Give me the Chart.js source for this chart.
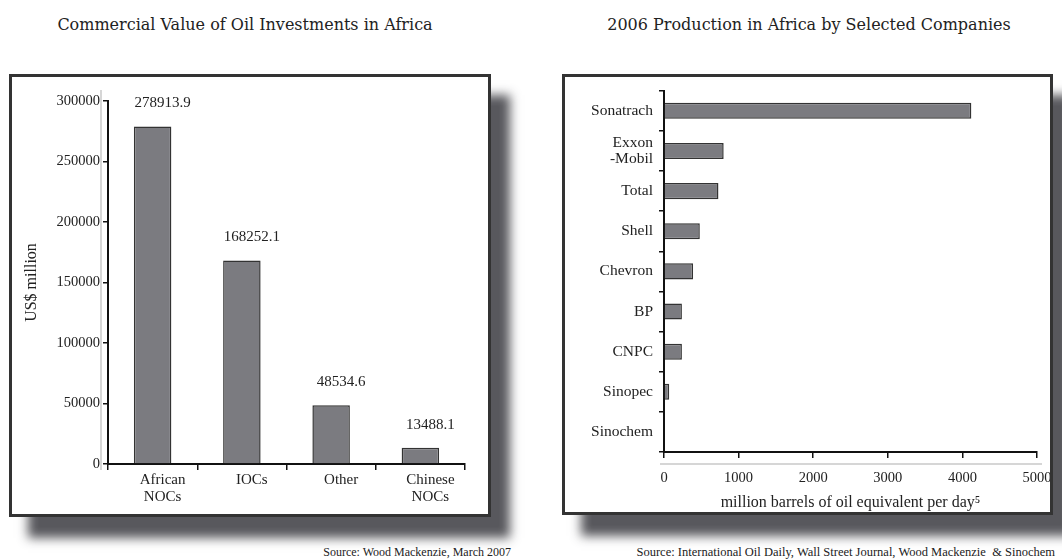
<!DOCTYPE html>
<html lang="en">
<head>
    <meta charset="UTF-8">
    <title>Oil in Africa</title>
    <script src="https://cdn.jsdelivr.net/npm/chart.js"></script>
    <style>
        body {
            margin: 0;
            width: 1062px;
            height: 559px;
            position: relative;
            background: #fff;
            font-family: "Liberation Serif", serif;
            color: #222;
            overflow: hidden;
        }
        .title {
            position: absolute;
            top: 15px;
            font-family: "DejaVu Serif", serif;
            font-size: 16px;
            text-align: center;
            white-space: nowrap;
            color: #222;
        }
        .panel {
            position: absolute;
            top: 74px;
            border: 3px solid #333;
            background: #fff;
            box-shadow: 19px 21px 10px rgba(70, 70, 75, 0.9);
        }
        .source {
            position: absolute;
            top: 545px;
            font-size: 12px;
            white-space: nowrap;
            color: #222;
        }
    </style>
</head>
<body>
    <div class="title" style="left:0; width:490px;">Commercial Value of Oil Investments in Africa</div>
    <div class="title" style="left:562px; width:494px;">2006 Production in Africa by Selected Companies</div>

    <div class="panel" style="left:9px; width:476px; height:437px;">
        <canvas id="valueChart" width="476" height="437"></canvas>
    </div>
    <div class="panel" style="left:562px; width:485px; height:435px;">
        <canvas id="prodChart" width="485" height="435"></canvas>
    </div>

    <div class="source" style="right:551px;">Source: Wood Mackenzie, March 2007</div>
    <div class="source" style="right:7px; font-size:12.5px;">Source: International Oil Daily, Wall Street Journal, Wood Mackenzie &nbsp;&amp; Sinochem</div>

    <script>
        // left chart: commercial value, US$ million
        const investors = [["African", "NOCs"], "IOCs", "Other", ["Chinese", "NOCs"]];
        const investValues = [278913.9, 168252.1, 48534.6, 13488.1];
        const valueTicks = [0, 50000, 100000, 150000, 200000, 250000, 300000];

        // right chart: 2006 production
        const companies = ["Sonatrach", ["Exxon", "-Mobil"], "Total", "Shell", "Chevron", "BP", "CNPC", "Sinopec", "Sinochem"];
        const production = [4120, 800, 730, 480, 390, 240, 240, 70, 0];
        const prodTicks = [0, 1000, 2000, 3000, 4000, 5000];

        const serif = "'Liberation Serif', serif";
        const barFill = "#7b7b80";
        const barEdge = "#333";
        const axisColor = "#111";

        // value labels over the bars (sit a little right of centre, like the labels below)
        const valueLabels = {
            id: "valueLabels",
            afterDatasetsDraw(chart) {
                const c = chart.ctx;
                c.save();
                c.font = "15px " + serif;
                c.fillStyle = "#222";
                c.textAlign = "center";
                c.textBaseline = "middle";
                chart.getDatasetMeta(0).data.forEach((bar, i) => {
                    c.fillText(investValues[i].toFixed(1), bar.x + 10, bar.y - 23);
                });
                c.restore();
            }
        };

        // faint scan lines next to the axes
        function faintLine(vertical) {
            return {
                id: "faint",
                afterDraw(chart) {
                    const a = chart.chartArea;
                    const c = chart.ctx;
                    c.save();
                    c.strokeStyle = "#c8c8c8";
                    c.lineWidth = 1.5;
                    c.beginPath();
                    if (vertical) {
                        c.moveTo(a.left - 7, a.top - 11);
                        c.lineTo(a.left - 7, a.bottom + 6);
                    } else {
                        c.moveTo(a.left - 4, a.bottom + 12);
                        c.lineTo(a.right + 5, a.bottom + 12);
                    }
                    c.stroke();
                    c.restore();
                }
            };
        }

        const plain = v => String(v);

        new Chart(document.getElementById("valueChart"), {
            type: "bar",
            data: {
                labels: investors,
                datasets: [{
                    data: investValues,
                    backgroundColor: barFill,
                    borderColor: barEdge,
                    borderWidth: 1.5,
                    categoryPercentage: 1,
                    barPercentage: 0.42
                }]
            },
            options: {
                responsive: false,
                animation: false,
                layout: { padding: { top: 24, right: 23, left: 0, bottom: 0 } },
                plugins: { legend: { display: false }, tooltip: { enabled: false } },
                scales: {
                    x: {
                        grid: { offset: true, drawOnChartArea: false, tickLength: 6, color: axisColor, lineWidth: 1.5 },
                        border: { color: axisColor, width: 2 },
                        ticks: { font: { family: serif, size: 15, lineHeight: 1.1 }, color: "#222", padding: 2, labelOffset: 10 },
                        afterFit(s) { s.height = 50; s.paddingRight = 0; }
                    },
                    y: {
                        min: 0,
                        max: 300000,
                        afterBuildTicks(s) { s.ticks = valueTicks.map(v => ({ value: v })); },
                        grid: { drawOnChartArea: false, tickLength: 5, color: axisColor, lineWidth: 1.5 },
                        border: { color: axisColor, width: 2 },
                        ticks: { font: { family: serif, size: 14.5 }, color: "#222", padding: 3, callback: plain },
                        title: { display: true, text: "US$ million", font: { family: serif, size: 16 }, color: "#222", padding: { top: 10, bottom: 0 } },
                        afterFit(s) { s.width = 96; }
                    }
                }
            },
            plugins: [valueLabels, faintLine(true)]
        });

        new Chart(document.getElementById("prodChart"), {
            type: "bar",
            data: {
                labels: companies,
                datasets: [{
                    data: production,
                    backgroundColor: barFill,
                    borderColor: barEdge,
                    borderWidth: 1.5,
                    categoryPercentage: 1,
                    barPercentage: 0.4
                }]
            },
            options: {
                indexAxis: "y",
                responsive: false,
                animation: false,
                layout: { padding: { top: 9, right: 13, left: 0, bottom: 0 } },
                plugins: { legend: { display: false }, tooltip: { enabled: false } },
                scales: {
                    y: {
                        grid: { offset: true, drawOnChartArea: false, tickLength: 5, color: axisColor, lineWidth: 1.5 },
                        border: { color: axisColor, width: 2 },
                        ticks: { font: { family: serif, size: 15.5, lineHeight: 1.0 }, color: "#222", padding: 6 },
                        afterFit(s) { s.width = 99; }
                    },
                    x: {
                        min: 0,
                        max: 5000,
                        afterBuildTicks(s) { s.ticks = prodTicks.map(v => ({ value: v })); },
                        grid: { drawOnChartArea: false, tickLength: 6, color: axisColor, lineWidth: 1.5 },
                        border: { color: axisColor, width: 2 },
                        ticks: { font: { family: serif, size: 14.5 }, color: "#222", padding: 11, maxRotation: 0, callback: plain },
                        title: { display: true, text: "million barrels of oil equivalent per day\u2075", font: { family: serif, size: 16 }, color: "#222", padding: 0 },
                        afterFit(s) { s.height = 60; s.paddingRight = 0; s.paddingLeft = 0; }
                    }
                }
            },
            plugins: [faintLine(false)]
        });
    </script>
</body>
</html>
